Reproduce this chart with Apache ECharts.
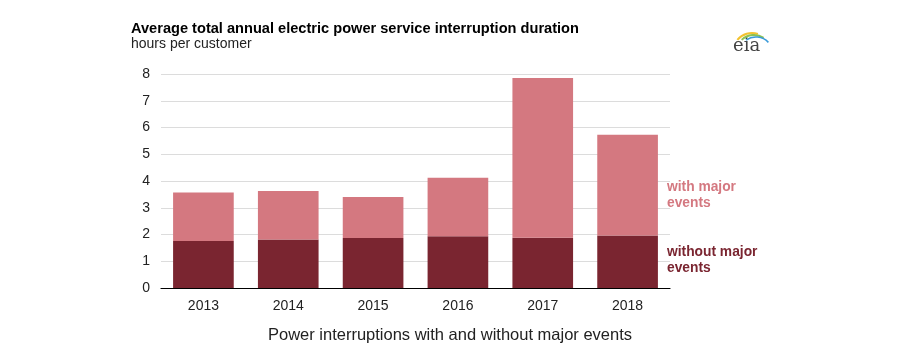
<!DOCTYPE html>
<html>
<head>
<meta charset="utf-8">
<script src="https://cdn.jsdelivr.net/npm/echarts@6/dist/echarts.min.js"></script>
<style>
  html, body { margin: 0; padding: 0; background: #fff; }
  #chart { width: 900px; height: 353px; }
</style>
</head>
<body>
<div id="chart"></div>
<script>
// years on the x axis
const years = ['2013', '2014', '2015', '2016', '2017', '2018']
// hours per customer, excluding major events
const withoutMajor = [1.76, 1.81, 1.87, 1.93, 1.88, 1.96]
// extra hours added by major events (stacked on top)
const majorExtra = [1.81, 1.82, 1.53, 2.19, 5.97, 3.77]

const dark = '#7a2530'
const light = '#d47880'
const font = 'Liberation Sans, Arial, sans-serif'

const chart = echarts.init(document.getElementById('chart'))

const option = {
  animation: false,
  textStyle: { fontFamily: font },
  grid: { left: 161, right: 230, top: 74, bottom: 65, containLabel: false },
  xAxis: {
    type: 'category',
    data: years,
    axisLine: { lineStyle: { color: '#000', width: 1.2 } },
    axisTick: { show: false },
    axisLabel: { fontSize: 14, color: '#222', margin: 11, fontFamily: font }
  },
  yAxis: {
    type: 'value',
    min: 0,
    max: 8,
    interval: 1,
    axisLine: { show: false },
    axisTick: { show: false },
    axisLabel: { fontSize: 14, color: '#222', margin: 11, fontFamily: font },
    splitLine: { lineStyle: { color: '#dcdcdc', width: 1 } }
  },
  series: [
    {
      name: 'without major events',
      type: 'bar',
      stack: 'total',
      data: withoutMajor,
      barCategoryGap: '28.5%',
      itemStyle: { color: dark }
    },
    {
      name: 'with major events',
      type: 'bar',
      stack: 'total',
      data: majorExtra,
      itemStyle: { color: light }
    }
  ],
  graphic: [
    {
      type: 'text', left: 131, top: 21,
      style: { text: 'Average total annual electric power service interruption duration', font: 'bold 14.6px ' + font, fill: '#000' }
    },
    {
      type: 'text', left: 131, top: 37,
      style: { text: 'hours per customer', font: '14px ' + font, fill: '#222' }
    },
    {
      type: 'text', x: 450, y: 327,
      style: { text: 'Power interruptions with and without major events', font: '16.5px ' + font, fill: '#222', align: 'center' }
    },
    {
      type: 'text', left: 667, top: 179,
      style: { text: 'with major\nevents', font: 'bold 13.8px ' + font, fill: light, lineHeight: 16 }
    },
    {
      type: 'text', left: 667, top: 244,
      style: { text: 'without major\nevents', font: 'bold 13.8px ' + font, fill: dark, lineHeight: 16 }
    },
    // eia logo
    {
      type: 'text', left: 733, top: 37,
      style: { text: 'eia', font: '18px DejaVu Serif, serif', fill: '#444' }
    },
    {
      type: 'arc', shape: { cx: 752, cy: 52, r: 19, startAngle: Math.PI * 1.22, endAngle: Math.PI * 1.6 },
      style: { stroke: '#f2c230', lineWidth: 2, fill: null }
    },
    {
      type: 'arc', shape: { cx: 754, cy: 53, r: 18, startAngle: Math.PI * 1.26, endAngle: Math.PI * 1.68 },
      style: { stroke: '#8cc152', lineWidth: 2, fill: null }
    },
    {
      type: 'arc', shape: { cx: 756, cy: 54, r: 17, startAngle: Math.PI * 1.3, endAngle: Math.PI * 1.76 },
      style: { stroke: '#3a9ad9', lineWidth: 1.5, fill: null }
    }
  ]
}

chart.setOption(option)
</script>
</body>
</html>
